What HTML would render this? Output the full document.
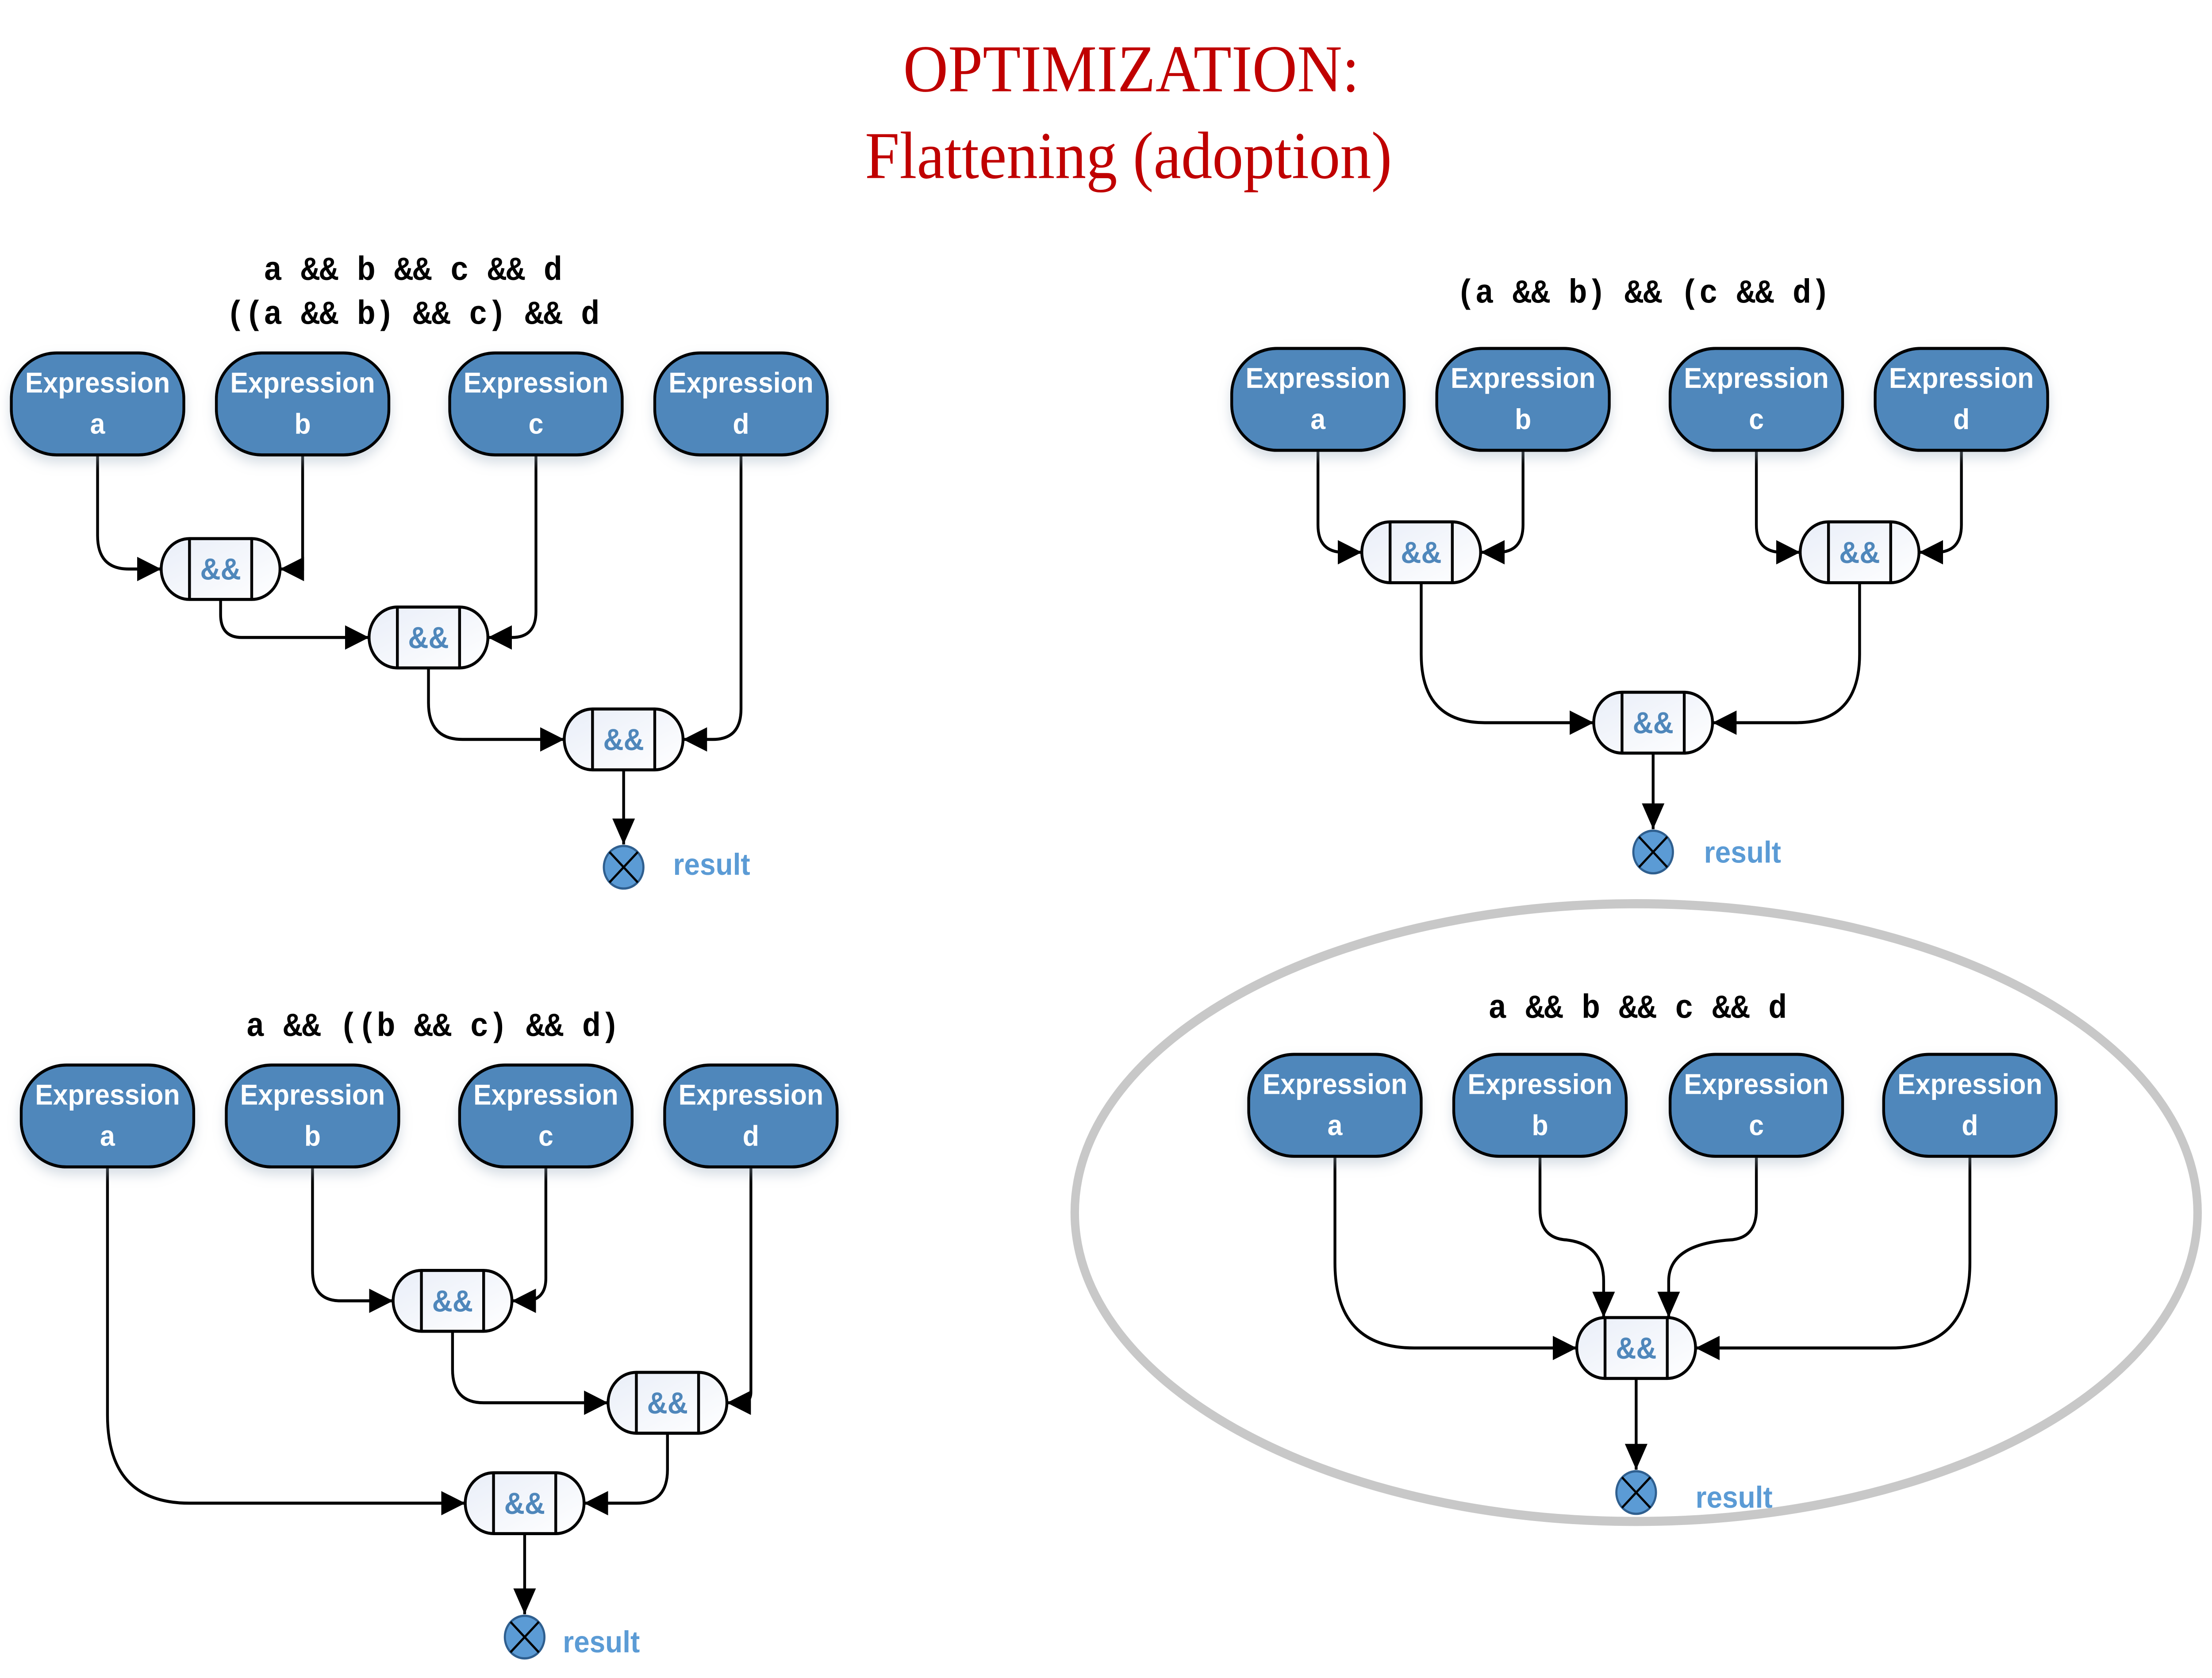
<!DOCTYPE html>
<html><head><meta charset="utf-8"><style>html,body{margin:0;padding:0;background:#fff;width:100vw;height:100vh;overflow:hidden}svg{display:block;width:100vw;height:100vh}</style></head>
<body>
<svg viewBox="0 0 1564.2 1102.9" preserveAspectRatio="none" xmlns="http://www.w3.org/2000/svg">
<defs>
<marker id="ar" markerUnits="userSpaceOnUse" markerWidth="18" markerHeight="16" refX="17" refY="8" orient="auto"><polygon points="0,0 17,8 0,16" fill="#000"/></marker>
<linearGradient id="g" x1="0" y1="0" x2="1" y2="1"><stop offset="0" stop-color="#e9eef8"/><stop offset="1" stop-color="#fff"/></linearGradient>
<filter id="sh" x="-20%" y="-20%" width="140%" height="150%"><feDropShadow dx="0" dy="4" stdDeviation="4" flood-color="#9ab" flood-opacity="0.4"/></filter>
<g id="ex"><rect x="-61" y="0" width="122" height="67" rx="32" ry="30" fill="#4f87bb" stroke="#000" stroke-width="2" filter="url(#sh)"/></g>
<g id="an"><rect x="-42" y="-20" width="84" height="40" rx="20" ry="20" fill="url(#g)" stroke="#000" stroke-width="2"/><line x1="-22" y1="-20" x2="-22" y2="20" stroke="#000" stroke-width="2"/><line x1="22" y1="-20" x2="22" y2="20" stroke="#000" stroke-width="2"/><text x="0" y="7" text-anchor="middle" font-family="Liberation Sans, sans-serif" font-weight="bold" font-size="20" fill="#4f87bb">&amp;&amp;</text></g>
<g id="rs"><circle r="14" fill="#5b9bd5" stroke="#2f5f8f" stroke-width="1.5"/><line x1="-10" y1="-10" x2="10" y2="10" stroke="#000" stroke-width="1.5"/><line x1="10" y1="-10" x2="-10" y2="10" stroke="#000" stroke-width="1.5"/></g>
</defs>
<g font-family="Liberation Serif, serif" fill="#c00000" font-size="44" text-anchor="middle">
<text x="800" y="60">OPTIMIZATION:</text>
<text x="798" y="117">Flattening (adoption)</text>
</g>
<g font-family="Liberation Mono, monospace" font-weight="bold" font-size="22" text-anchor="middle" fill="#000">
<text x="292" y="184">a &amp;&amp; b &amp;&amp; c &amp;&amp; d</text>
<text x="292" y="213">((a &amp;&amp; b) &amp;&amp; c) &amp;&amp; d</text>
<text x="1162" y="199">(a &amp;&amp; b) &amp;&amp; (c &amp;&amp; d)</text>
<text x="306" y="681">a &amp;&amp; ((b &amp;&amp; c) &amp;&amp; d)</text>
<text x="1158" y="669">a &amp;&amp; b &amp;&amp; c &amp;&amp; d</text>
</g>
<ellipse cx="1157" cy="797" rx="397" ry="203" fill="none" stroke="#c8c8c8" stroke-width="6"/>
<g fill="none" stroke="#000" stroke-width="2" marker-end="url(#ar)">
<path d="M69 298 V352 Q69 374 91 374 H114"/>
<path d="M214 298 V374 H198"/>
<path d="M156 394 V404 Q156 419 171 419 H261"/>
<path d="M379 298 V402 Q379 419 362 419 H345"/>
<path d="M303 439 V462 Q303 486 327 486 H399"/>
<path d="M524 298 V466 Q524 486 504 486 H483"/>
<path d="M441 506 V555"/>
<path d="M932 296 V345 Q932 363 950 363 H963"/>
<path d="M1077 296 V345 Q1077 363 1059 363 H1047"/>
<path d="M1242 296 V345 Q1242 363 1260 363 H1273"/>
<path d="M1387 296 V345 Q1387 363 1369 363 H1357"/>
<path d="M1005 383 V430 Q1005 475 1050 475 H1127"/>
<path d="M1315 383 V430 Q1315 475 1270 475 H1211"/>
<path d="M1169 495 V545"/>
<path d="M221 767 V835 Q221 855 241 855 H278"/>
<path d="M386 767 V840 Q386 855 371 855 H362"/>
<path d="M320 875 V900 Q320 922 342 922 H430"/>
<path d="M531 767 V915 Q531 922 524 922 H514"/>
<path d="M76 767 V930 Q76 988 134 988 H329"/>
<path d="M472 942 V966 Q472 988 450 988 H413"/>
<path d="M371 1008 V1061"/>
<path d="M944 760 V830 Q944 886 1000 886 H1115"/>
<path d="M1393 760 V830 Q1393 886 1337 886 H1199"/>
<path d="M1089 760 V795 Q1089 814 1108 815 Q1134 818 1134 842 V866"/>
<path d="M1242 760 V795 Q1242 814 1223 815 Q1180 818 1180 842 V866"/>
<path d="M1157 906 V966"/>
</g>
<g font-family="Liberation Sans, sans-serif" font-weight="bold" font-size="19" fill="#fff" text-anchor="middle">
<g transform="translate(69,232)"><use href="#ex"/><text y="26">Expression</text><text y="53">a</text></g>
<g transform="translate(214,232)"><use href="#ex"/><text y="26">Expression</text><text y="53">b</text></g>
<g transform="translate(379,232)"><use href="#ex"/><text y="26">Expression</text><text y="53">c</text></g>
<g transform="translate(524,232)"><use href="#ex"/><text y="26">Expression</text><text y="53">d</text></g>
<g transform="translate(932,229)"><use href="#ex"/><text y="26">Expression</text><text y="53">a</text></g>
<g transform="translate(1077,229)"><use href="#ex"/><text y="26">Expression</text><text y="53">b</text></g>
<g transform="translate(1242,229)"><use href="#ex"/><text y="26">Expression</text><text y="53">c</text></g>
<g transform="translate(1387,229)"><use href="#ex"/><text y="26">Expression</text><text y="53">d</text></g>
<g transform="translate(76,700)"><use href="#ex"/><text y="26">Expression</text><text y="53">a</text></g>
<g transform="translate(221,700)"><use href="#ex"/><text y="26">Expression</text><text y="53">b</text></g>
<g transform="translate(386,700)"><use href="#ex"/><text y="26">Expression</text><text y="53">c</text></g>
<g transform="translate(531,700)"><use href="#ex"/><text y="26">Expression</text><text y="53">d</text></g>
<g transform="translate(944,693)"><use href="#ex"/><text y="26">Expression</text><text y="53">a</text></g>
<g transform="translate(1089,693)"><use href="#ex"/><text y="26">Expression</text><text y="53">b</text></g>
<g transform="translate(1242,693)"><use href="#ex"/><text y="26">Expression</text><text y="53">c</text></g>
<g transform="translate(1393,693)"><use href="#ex"/><text y="26">Expression</text><text y="53">d</text></g>
</g>
<use href="#an" x="156" y="374"/><use href="#an" x="303" y="419"/><use href="#an" x="441" y="486"/>
<use href="#an" x="1005" y="363"/><use href="#an" x="1315" y="363"/><use href="#an" x="1169" y="475"/>
<use href="#an" x="320" y="855"/><use href="#an" x="472" y="922"/><use href="#an" x="371" y="988"/>
<use href="#an" x="1157" y="886"/>
<use href="#rs" x="441" y="570"/><use href="#rs" x="1169" y="560"/><use href="#rs" x="371" y="1076"/><use href="#rs" x="1157" y="981"/>
<g font-family="Liberation Sans, sans-serif" font-weight="bold" font-size="20" fill="#5b9bd5">
<text x="476" y="575">result</text>
<text x="1205" y="567">result</text>
<text x="398" y="1086">result</text>
<text x="1199" y="991">result</text>
</g>
</svg>
</body></html>
